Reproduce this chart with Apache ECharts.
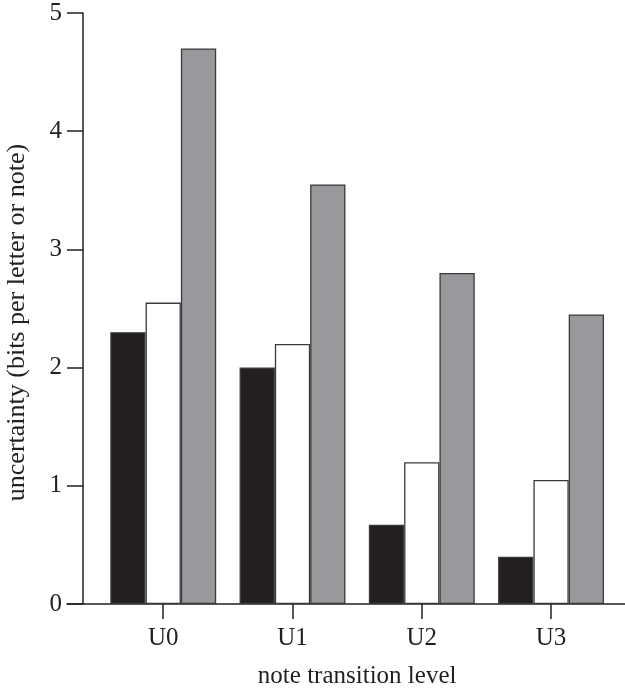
<!DOCTYPE html>
<html>
<head>
<meta charset="utf-8">
<script src="https://cdn.jsdelivr.net/npm/echarts@6/dist/echarts.min.js"></script>
<style>html,body{margin:0;padding:0;background:#fff}#c{width:625px;height:688px}</style>
</head>
<body>
<div id="c"></div>
<script>
var categories = ['U0', 'U1', 'U2', 'U3'];
var seriesBlack = [2.30, 2.00, 0.67, 0.40];
var seriesWhite = [2.55, 2.20, 1.20, 1.05];
var seriesGray = [4.70, 3.55, 2.80, 2.45];
var yTicks = [0, 1, 2, 3, 4, 5];
var xTitle = 'note transition level';
var yTitle = 'uncertainty (bits per letter or note)';

var font = 'Liberation Serif';
var ink = '#231f20';
var chart = echarts.init(document.getElementById('c'), null, {renderer: 'canvas'});

function barSeries(name, data, color) {
  return {
    name: name, type: 'bar', data: data, xAxisIndex: 0, yAxisIndex: 0,
    barWidth: 35.3, barGap: '0%',
    itemStyle: {color: color, borderColor: '#3a3a3a', borderWidth: 1.3},
    silent: true
  };
}

chart.setOption({
  animation: false,
  backgroundColor: '#fff',
  grid: [
    {left: 98.6, right: 9.3, top: 13, bottom: 84, containLabel: false, outerBoundsMode: 'none'},
    {left: 67, right: 0, top: 13, bottom: 84, containLabel: false, outerBoundsMode: 'none'}
  ],
  xAxis: [
    {
      type: 'category', gridIndex: 0, data: categories,
      axisLine: {show: false},
      axisTick: {show: true, alignWithLabel: true, length: 15, lineStyle: {color: ink, width: 1.5}},
      axisLabel: {color: ink, fontFamily: font, fontSize: 25, margin: 22},
      name: xTitle, nameLocation: 'middle', nameGap: 60,
      nameTextStyle: {color: ink, fontFamily: font, fontSize: 25}
    },
    {
      type: 'value', gridIndex: 1, min: 0, max: 1,
      axisLine: {show: true, onZero: false, lineStyle: {color: ink, width: 1.5}},
      axisTick: {show: false}, axisLabel: {show: false}, splitLine: {show: false}
    }
  ],
  yAxis: [
    {
      type: 'value', gridIndex: 0, min: yTicks[0], max: yTicks[yTicks.length - 1], interval: 1,
      offset: 15.6,
      axisLine: {show: true, lineStyle: {color: ink, width: 1.5}},
      axisTick: {show: true, length: 16, lineStyle: {color: ink, width: 1.5}},
      axisLabel: {color: ink, fontFamily: font, fontSize: 25, margin: 21},
      splitLine: {show: false},
      name: yTitle, nameLocation: 'middle', nameGap: 53, nameRotate: 90,
      nameTextStyle: {color: ink, fontFamily: font, fontSize: 26, padding: [0, 0, 0, -28]}
    },
    {
      type: 'value', gridIndex: 1, show: false
    }
  ],
  series: [
    barSeries('black', seriesBlack, '#231f20'),
    barSeries('white', seriesWhite, '#ffffff'),
    barSeries('gray', seriesGray, '#98999d')
  ]
});
</script>
</body>
</html>
